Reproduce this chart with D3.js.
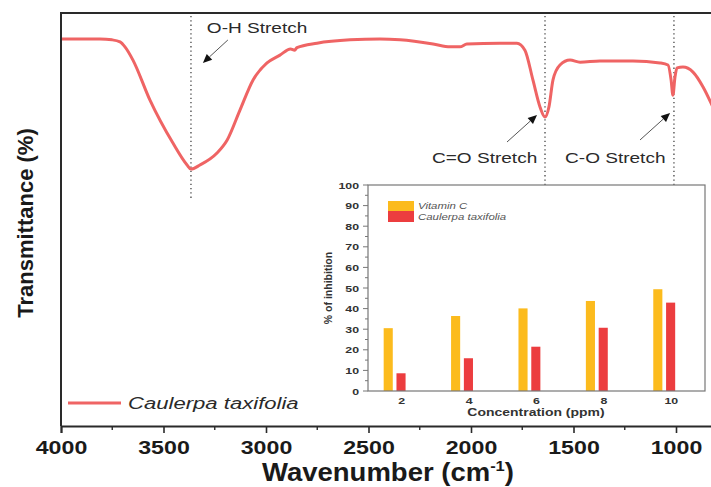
<!DOCTYPE html>
<html>
<head>
<meta charset="utf-8">
<script src="https://cdn.jsdelivr.net/npm/d3@7"></script>
<style>
  body { margin: 0; background: #fff; }
  text { font-family: "Liberation Sans", Arial, sans-serif; }
</style>
</head>
<body>
<div id="chart"></div>
<script>
// FTIR spectrum: wavenumber (cm-1) and transmittance (%)
const wavenumber = [4000, 3810, 3751, 3712, 3688, 3649, 3566, 3454, 3385, 3366, 3322, 3239, 3190, 3127, 3063, 2995, 2932, 2880, 2860, 2849, 2751, 2590, 2444, 2346, 2185, 2102, 2054, 2020, 1859, 1776, 1737, 1698, 1663, 1639, 1620, 1600, 1566, 1517, 1468, 1371, 1210, 1078, 1039, 1024, 1015, 1005, 995, 966, 917, 868, 829, 800];
const transmittance = [93.7, 93.7, 93.5, 93.0, 91.8, 88.6, 78.9, 68.5, 63.2, 62.2, 63.2, 66.1, 69.2, 76.5, 83.8, 87.9, 89.8, 91.3, 91.0, 91.6, 92.7, 93.5, 93.7, 93.5, 92.5, 91.8, 91.8, 92.5, 92.7, 92.7, 91.0, 83.8, 77.2, 74.8, 77.2, 83.8, 87.4, 88.6, 88.1, 88.4, 88.4, 87.9, 87.4, 83.8, 80.1, 84.5, 86.7, 86.9, 85.7, 82.1, 78.2, 75.0];

const xTicks = [4000, 3500, 3000, 2500, 2000, 1500, 1000];
const peakLines = [3366, 1639, 1010];

// annotations: arrow tip in data units
const notes = [
  { text: "O-H Stretch", w: 3308, t: 87.9, tail: [25, -23], lab: [4, -30] },
  { text: "C=O Stretch", w: 1678, t: 75.3, tail: [-30, 27], lab: [-105, 48] },
  { text: "C-O Stretch", w: 1029, t: 75.8, tail: [-30, 27], lab: [-105, 50] }
];

// inset: DPPH inhibition
const concentration = [2, 4, 6, 8, 10];
const vitaminC = [30.5, 36.4, 40.1, 43.7, 49.4];
const caulerpa = [8.6, 15.9, 21.5, 30.7, 42.9];
const insetYTicks = [0, 10, 20, 30, 40, 50, 60, 70, 80, 90, 100];

const W = 711, H = 487;
const svg = d3.select("#chart").append("svg")
  .attr("width", W).attr("height", H);

const mLeft = 61, mTop = 13, mBottom = 426, mRight = 717;

const x = d3.scaleLinear().domain([4000, 800]).range([mLeft, mRight]);
const y = d3.scaleLinear().domain([0, 100]).range([mBottom, mTop]);

function label(g, txt, px, py, size, opt = {}) {
  const sx = opt.sx || 1;
  const t = g.append("text")
    .attr("transform", `translate(${px},${py}) scale(${sx},1)` + (opt.rot ? ` rotate(${opt.rot})` : ""))
    .attr("font-size", size)
    .attr("font-weight", opt.bold ? "bold" : "normal")
    .attr("font-style", opt.italic ? "italic" : "normal")
    .attr("text-anchor", opt.anchor || "start")
    .attr("fill", opt.fill || "#1a1a1a")
    .text(txt);
  return t;
}

// dotted peak markers
svg.selectAll(".peak").data(peakLines).enter().append("line")
  .attr("x1", d => x(d)).attr("x2", d => x(d))
  .attr("y1", mTop + 3).attr("y2", 200)
  .attr("stroke", "#444").attr("stroke-width", 1.3)
  .attr("stroke-dasharray", "1.3,3");

// spectrum
const line = d3.line()
  .x((d, i) => x(wavenumber[i]))
  .y(d => y(d))
  .curve(d3.curveMonotoneX);

svg.append("path")
  .datum(transmittance)
  .attr("d", line)
  .attr("fill", "none")
  .attr("stroke", "#ef6464")
  .attr("stroke-width", 3)
  .attr("stroke-linejoin", "round");

// frame: left, top, bottom (right side runs off the picture)
svg.append("path")
  .attr("d", `M${mRight + 10},${mTop}H${mLeft}V${mBottom}`)
  .attr("fill", "none").attr("stroke", "#2a2a2a").attr("stroke-width", 2);

// x axis
const xAxis = svg.append("g")
  .attr("transform", `translate(0,${mBottom})`)
  .call(d3.axisBottom(x).tickValues(xTicks).tickSize(7).tickFormat(d3.format("d")));
xAxis.select(".domain").attr("stroke", "#2a2a2a").attr("stroke-width", 2);
xAxis.selectAll(".tick line").attr("stroke", "#2a2a2a").attr("stroke-width", 1.6);
xAxis.selectAll(".tick text")
  .attr("y", 28).attr("dy", 0)
  .attr("transform", "scale(1.22,1)")
  .attr("font-size", 19).attr("font-weight", "bold")
  .attr("fill", "#1a1a1a")
  .attr("font-family", "Liberation Sans, Arial, sans-serif");

const minor = d3.range(3750, 800, -500);
svg.selectAll(".minor").data(minor).enter().append("line")
  .attr("x1", d => x(d)).attr("x2", d => x(d))
  .attr("y1", mBottom).attr("y2", mBottom + 4)
  .attr("stroke", "#2a2a2a").attr("stroke-width", 1.4);

// axis titles
const xt = svg.append("text")
  .attr("transform", "translate(388,481) scale(1.1,1)")
  .attr("text-anchor", "middle")
  .attr("font-size", 25).attr("font-weight", "bold").attr("fill", "#1a1a1a");
xt.append("tspan").text("Wavenumber (cm");
xt.append("tspan").attr("font-size", 15).attr("dy", -10).text("-1");
xt.append("tspan").attr("dy", 10).text(")");

label(svg, "Transmittance (%)", 33, 223, 22, { bold: true, anchor: "middle", rot: -90 });

// annotations
notes.forEach(n => {
  const tx = x(n.w), ty = y(n.t);
  const ex = tx + n.tail[0], ey = ty + n.tail[1];
  const ang = Math.atan2(ty - ey, tx - ex);
  const L = 9, hw = 4;
  const bx = tx - L * Math.cos(ang), by = ty - L * Math.sin(ang);
  svg.append("line")
    .attr("x1", ex).attr("y1", ey).attr("x2", bx).attr("y2", by)
    .attr("stroke", "#555").attr("stroke-width", 1);
  svg.append("path")
    .attr("d", `M${tx},${ty}L${bx - hw * Math.sin(ang)},${by + hw * Math.cos(ang)}L${bx + hw * Math.sin(ang)},${by - hw * Math.cos(ang)}Z`)
    .attr("fill", "#111");
  label(svg, n.text, tx + n.lab[0], ty + n.lab[1], 15, { sx: 1.27, fill: "#2a2a2a" });
});

// legend
svg.append("line")
  .attr("x1", 68).attr("x2", 121).attr("y1", 403).attr("y2", 403)
  .attr("stroke", "#ef6464").attr("stroke-width", 3);
label(svg, "Caulerpa taxifolia", 128, 409, 17, { italic: true, sx: 1.3, fill: "#2a2a2a" });

// ---------- inset bar chart ----------
const ix = d3.scaleLinear().domain([1, 11]).range([368, 705]);
const iy = d3.scaleLinear().domain([0, 100]).range([391, 185]);
const inset = svg.append("g");

inset.append("rect")
  .attr("x", ix(1)).attr("y", iy(100))
  .attr("width", ix(11) - ix(1)).attr("height", iy(0) - iy(100))
  .attr("fill", "#fff");

const barW = 0.27;
inset.selectAll(".vc").data(concentration).enter().append("rect")
  .attr("x", (d) => ix(d - 0.4 - barW / 2))
  .attr("width", ix(1 + barW) - ix(1))
  .attr("y", (d, i) => iy(vitaminC[i]))
  .attr("height", (d, i) => iy(0) - iy(vitaminC[i]))
  .attr("fill", "#fcbb1d");
inset.selectAll(".ct").data(concentration).enter().append("rect")
  .attr("x", (d) => ix(d - 0.02 - barW / 2))
  .attr("width", ix(1 + barW) - ix(1))
  .attr("y", (d, i) => iy(caulerpa[i]))
  .attr("height", (d, i) => iy(0) - iy(caulerpa[i]))
  .attr("fill", "#ec3d3f");

inset.append("rect")
  .attr("x", ix(1)).attr("y", iy(100))
  .attr("width", ix(11) - ix(1)).attr("height", iy(0) - iy(100))
  .attr("fill", "none").attr("stroke", "#777").attr("stroke-width", 1.2);

// inset y ticks
inset.selectAll(".iyt").data(insetYTicks).enter().append("line")
  .attr("x1", ix(1) - 5).attr("x2", ix(1))
  .attr("y1", d => iy(d)).attr("y2", d => iy(d))
  .attr("stroke", "#777");
inset.selectAll(".iym").data(d3.range(5, 100, 10)).enter().append("line")
  .attr("x1", ix(1) - 3).attr("x2", ix(1))
  .attr("y1", d => iy(d)).attr("y2", d => iy(d))
  .attr("stroke", "#777");
insetYTicks.forEach(v => label(inset, v, ix(1) - 9, iy(v) + 3.5, 9.5, { bold: true, anchor: "end", sx: 1.3, fill: "#333" }));
concentration.forEach(c => label(inset, c, ix(c), 404, 9.5, { bold: true, anchor: "middle", sx: 1.3, fill: "#333" }));

label(inset, "Concentration (ppm)", 536, 416, 11, { bold: true, anchor: "middle", sx: 1.27, fill: "#333" });
label(inset, "% of inhibition", 332, 288, 10.5, { bold: true, anchor: "middle", rot: -90, fill: "#333" });

// inset legend
inset.append("rect").attr("x", 388).attr("y", 201).attr("width", 26).attr("height", 10).attr("fill", "#fcbb1d");
inset.append("rect").attr("x", 388).attr("y", 211).attr("width", 26).attr("height", 11).attr("fill", "#ec3d3f");
label(inset, "Vitamin C", 418, 209, 9, { italic: true, sx: 1.27, fill: "#555" });
label(inset, "Caulerpa taxifolia", 418, 220, 9, { italic: true, sx: 1.27, fill: "#555" });
</script>
</body>
</html>
